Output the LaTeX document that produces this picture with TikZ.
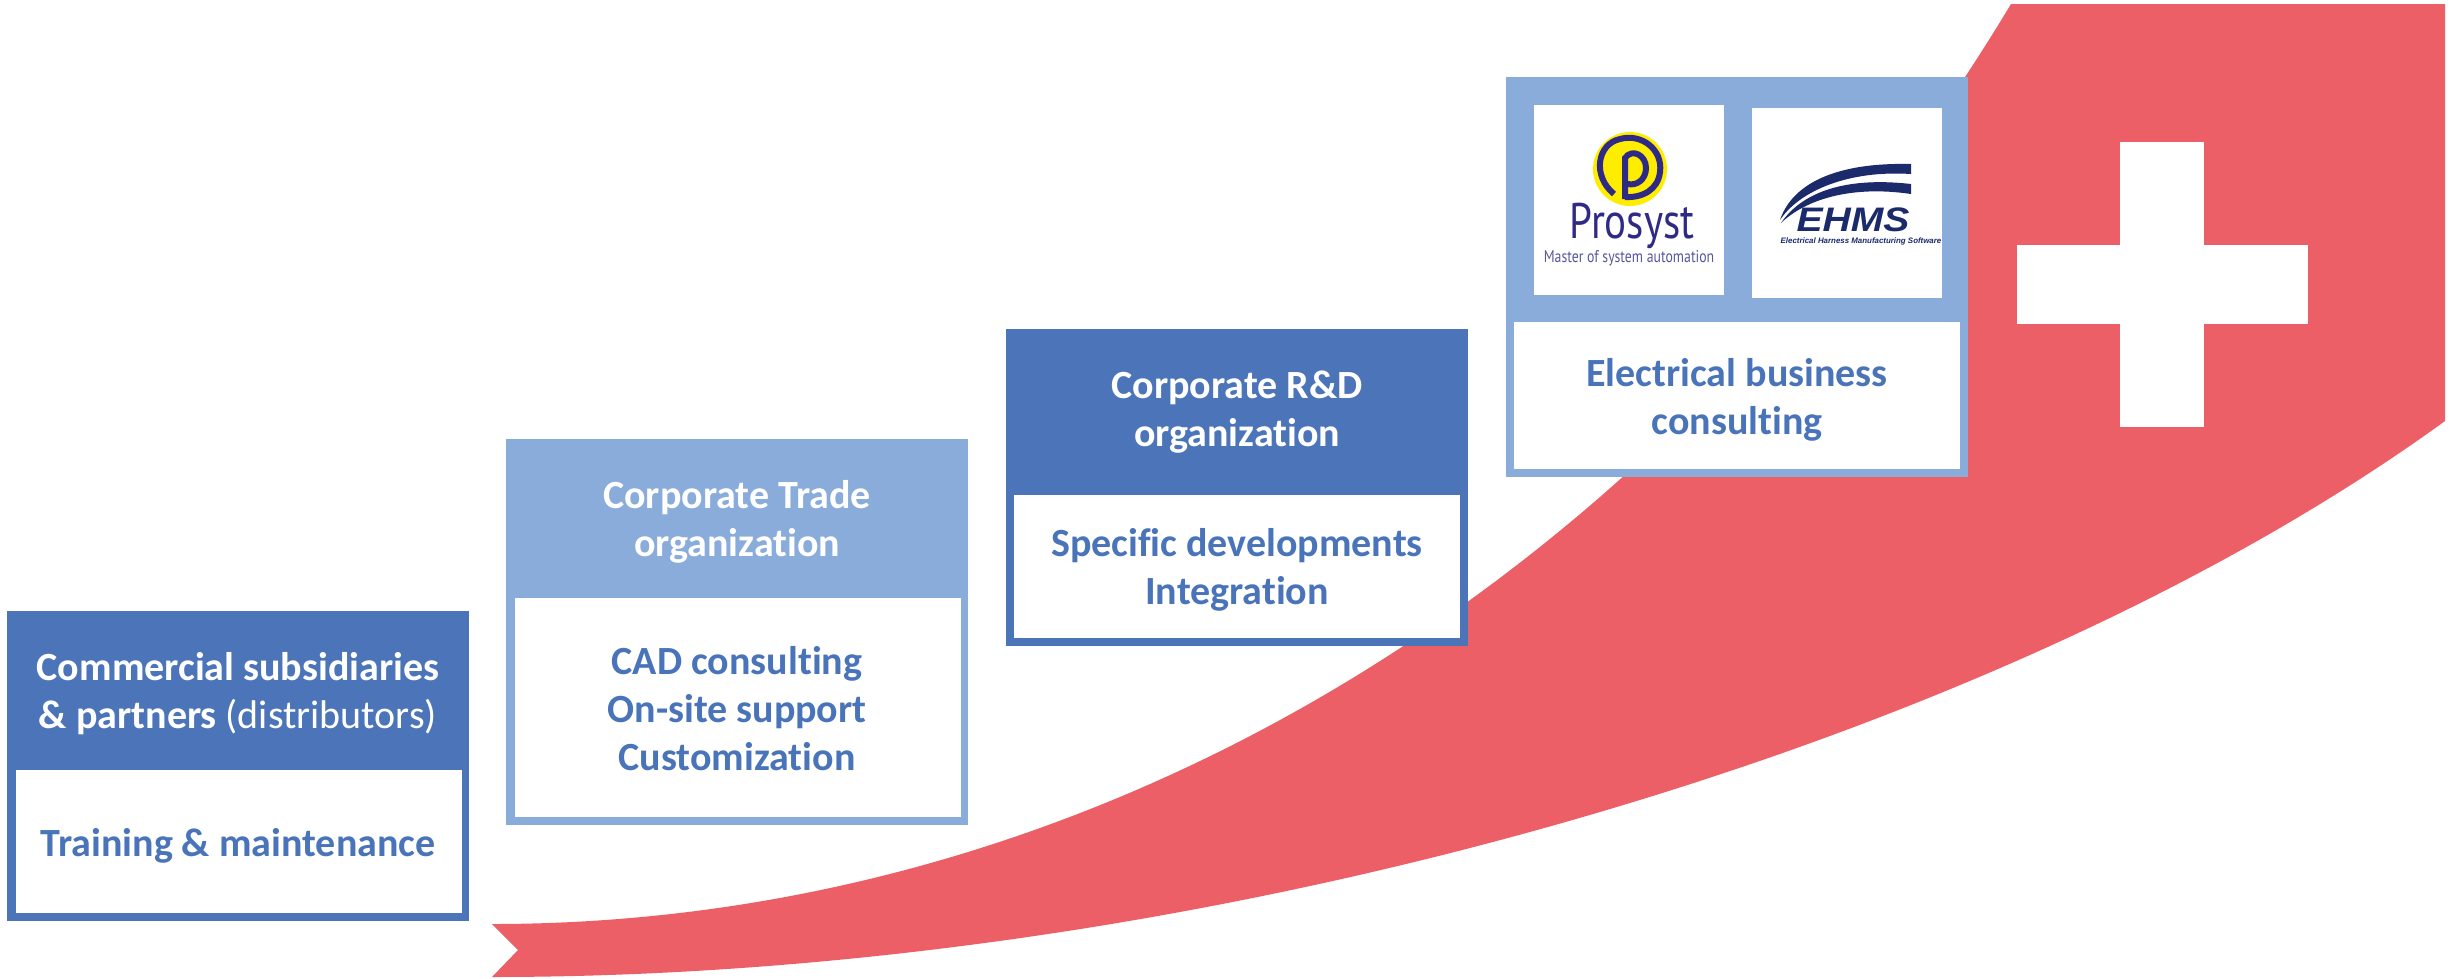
\documentclass[tikz,border=0pt]{standalone}
\usepackage{fontspec}
\setmainfont{Carlito}[Ligatures=CommonOff]
\newfontfamily\logofont{PT Sans}
\newfontfamily\ehmsfont{Liberation Sans}
\definecolor{dkblue}{HTML}{4C75B9}
\definecolor{ltblue}{HTML}{8AACDB}
\definecolor{ribbonred}{HTML}{ED5F66}
\definecolor{txtblue}{HTML}{4A74B9}
\definecolor{lognavy}{HTML}{1B2A6B}
\definecolor{logpurple}{HTML}{2F2A85}
\definecolor{logyellow}{HTML}{FFED00}
\newcommand{\ls}{\rule[-17pt]{0pt}{48pt}}
\newcommand{\tiplain}{t\kern0pt i}
\tikzset{
  x=1pt,y=-1pt,
  panel/.style={rectangle,inner sep=0pt,outer sep=0pt,minimum width=462pt},
  whitepanel/.style={rectangle,fill=white,inner sep=0pt,outer sep=0pt,minimum width=446pt},
  label/.style={inner sep=0pt,outer sep=0pt,align=center,font=\fontsize{40}{48}\selectfont\bfseries},
  headtxt/.style={label,text=white},
  bodytxt/.style={label,text=txtblue},
  logobox/.style={rectangle,fill=white,inner sep=0pt,outer sep=0pt,minimum width=190pt,minimum height=190pt},
}
\begin{document}
\begin{tikzpicture}
\useasboundingbox (0,0) rectangle (2456,978);
% ribbon
\fill[ribbonred] (492,924) .. controls (1092,924) and (1659,588) .. (2011,4)
  -- (2445,4) -- (2445,421)
  .. controls (1986,754) and (1192,977) .. (492,977)
  -- (518,950) -- cycle;
% cross
\fill[white] (2120,142) rectangle (2204,427);
\fill[white] (2017,245) rectangle (2308,324);
% box 1
\node[panel,fill=dkblue,minimum height=310pt] (b1) at (238,766) {};
\node[whitepanel,minimum height=143pt] (w1) at (239,841.5) {};
\node[headtxt] (h1) at (238,697) {\ls Commercial subsidiaries\\\ls \& partners {\mdseries(distributors)}};
\node[bodytxt] (t1) at (238,849) {\ls Training \& maintenance};
% box 2
\node[panel,fill=ltblue,minimum height=386pt] (b2) at (737,632) {};
\node[whitepanel,minimum height=219pt] (w2) at (737.5,707.5) {};
\node[headtxt] (h2) at (737,525) {\ls Corporate Trade\\\ls organiza\tiplain on};
\node[bodytxt] (t2) at (737,715) {\ls CAD consul\tiplain ng\\\ls On-site support\\\ls Customiza\tiplain on};
% box 3
\node[panel,fill=dkblue,minimum height=317pt] (b3) at (1237,487.5) {};
\node[whitepanel,minimum height=143pt] (w3) at (1237,566.5) {};
\node[headtxt] (h3) at (1237,415) {\ls Corporate R\&D\\\ls organiza\tiplain on};
\node[bodytxt] (t3) at (1237,573) {\ls Specific developments\\\ls Integra\tiplain on};
% box 4
\node[panel,fill=ltblue,minimum height=400pt] (b4) at (1737,277) {};
\node[whitepanel,minimum height=147pt] (w4) at (1737,395.5) {};
\node[bodytxt] (t4) at (1737,403) {\ls Electrical business\\\ls consul\tiplain ng};
% Prosyst logo
\node[logobox] (l1) at (1629,200) {};
\fill[logyellow] (1630,169) circle (37);
\draw[logpurple,line width=6pt] (1614,194) .. controls (1592,176) and (1597,144) .. (1620,139) .. controls (1642,133) and (1663,150) .. (1660,172) .. controls (1658,190) and (1642,198) .. (1625,197);
\draw[logpurple,line width=6pt] (1625,199) -- (1625,158) .. controls (1632,148) and (1646,155) .. (1646,168) .. controls (1646,180) and (1636,186) .. (1628,184);
\node[inner sep=0pt,anchor=base,text=logpurple,font=\logofont\fontsize{50}{50}\selectfont,xscale=0.82] (p1) at (1632,238) {Prosyst};
\node[inner sep=0pt,anchor=base,text=logpurple!80,font=\logofont\fontsize{17}{17}\selectfont,xscale=0.81] (p2) at (1629,262) {Master of system automation};
% EHMS logo
\node[logobox] (l2) at (1847,203) {};
\fill[lognavy] (1780,220) .. controls (1790,190) and (1825,162) .. (1911,164) -- (1911,174) .. controls (1850,170) and (1800,190) .. cycle;
\fill[lognavy] (1781,223) .. controls (1800,195) and (1840,176) .. (1911,184) -- (1911,194) .. controls (1850,185) and (1805,200) .. cycle;
\node[inner sep=0pt,anchor=base,text=lognavy,font=\ehmsfont\fontsize{34}{34}\selectfont\bfseries\itshape,xscale=1.15] (e1) at (1853,231) {EHMS};
\node[inner sep=0pt,anchor=base,text=lognavy,font=\ehmsfont\fontsize{7.9}{9}\selectfont\bfseries\itshape] (e2) at (1861,243) {Electrical Harness Manufacturing Software};
\end{tikzpicture}
\end{document}
